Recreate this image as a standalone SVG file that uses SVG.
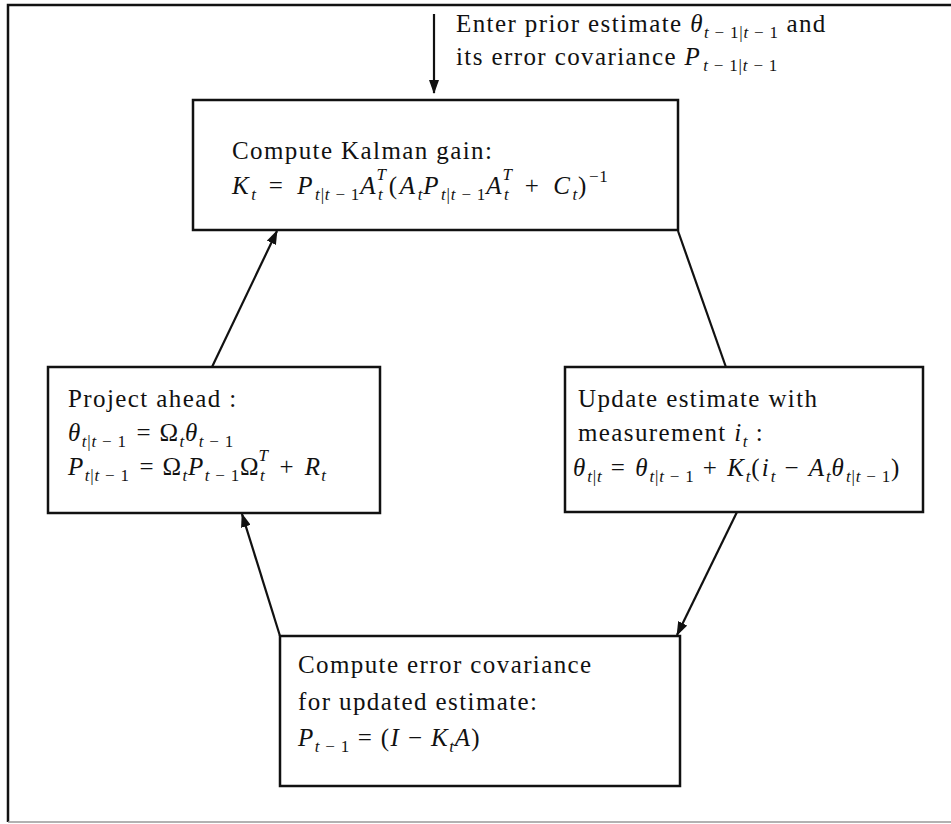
<svg xmlns="http://www.w3.org/2000/svg" width="951" height="824" viewBox="0 0 951 824">
<style>
.t{font-family:"Liberation Serif","Times New Roman",serif;font-size:25px;letter-spacing:1.4px;fill:#111}
.i{font-style:italic}
.s{font-size:17px;letter-spacing:0.8px}
.wide{letter-spacing:2.6px}
.box{fill:#fff;stroke:#111;stroke-width:2.5}
.c{stroke:#111;stroke-width:2.2;fill:none;marker-end:url(#ah)}
</style>
<defs>
<marker id="ah" markerUnits="userSpaceOnUse" markerWidth="14" markerHeight="10" refX="13" refY="5" orient="auto">
<path d="M0,0 L14,5 L0,10 Z" fill="#111"/>
</marker>
</defs>
<rect width="951" height="824" fill="#fff"/>
<g id="frame">
<path d="M8,822 L8,5 L951,5" fill="none" stroke="#111" stroke-width="2.5"/>
<path d="M8,822 L951,822" fill="none" stroke="#999" stroke-width="1.5"/>
</g>
<g id="connectors">
<line class="c" x1="434" y1="14" x2="434" y2="93"/>
<line class="c" x1="678" y1="231" x2="740" y2="407"/>
<line class="c" x1="737" y1="512" x2="677" y2="635"/>
<line class="c" x1="280" y1="636" x2="242" y2="514"/>
<line class="c" x1="212" y1="367" x2="277" y2="231"/>
</g>
<g id="entry">
<text class="t" x="456" y="32">Enter prior estimate <tspan class="i">θ</tspan><tspan class="s" dy="6"><tspan class="i">t</tspan> − 1|<tspan class="i">t</tspan> − 1</tspan><tspan dy="-6"> and</tspan></text>
<text class="t" x="456" y="65">its error covariance <tspan class="i">P</tspan><tspan class="s" dy="6" dx="2"><tspan class="i">t</tspan> − 1|<tspan class="i">t</tspan> − 1</tspan></text>
</g>
<g id="kalman">
<rect class="box" x="193" y="100" width="485" height="130"/>
<text class="t" x="232" y="159">Compute Kalman gain:</text>
<text class="t wide" x="232" y="194"><tspan class="i">K</tspan><tspan class="s i" dy="6">t</tspan><tspan dy="-6" dx="3"> = </tspan><tspan class="i" dx="3">P</tspan><tspan class="s" dy="6"><tspan class="i">t</tspan>|<tspan class="i">t</tspan> − 1</tspan><tspan class="i" dy="-6">A</tspan><tspan class="s i" dy="6">t</tspan><tspan class="s i" dx="-7" dy="-20">T</tspan><tspan dy="14" dx="2">(</tspan><tspan class="i">A</tspan><tspan class="s i" dy="6">t</tspan><tspan class="i" dy="-6">P</tspan><tspan class="s" dy="6"><tspan class="i">t</tspan>|<tspan class="i">t</tspan> − 1</tspan><tspan class="i" dy="-6">A</tspan><tspan class="s i" dy="6">t</tspan><tspan class="s i" dx="-7" dy="-20">T</tspan><tspan dy="14" dx="3"> + </tspan><tspan class="i" dx="3">C</tspan><tspan class="s i" dy="6">t</tspan><tspan dy="-6">)</tspan><tspan class="s" dy="-12">−1</tspan></text>
</g>
<g id="project">
<rect class="box" x="48" y="367" width="332" height="146"/>
<text class="t" x="68" y="407">Project ahead :</text>
<text class="t" x="68" y="441"><tspan class="i">θ</tspan><tspan class="s" dy="6"><tspan class="i">t</tspan>|<tspan class="i">t</tspan> − 1</tspan><tspan dy="-6" dx="2"> = Ω</tspan><tspan class="s i" dy="6">t</tspan><tspan class="i" dy="-6">θ</tspan><tspan class="s" dy="6"><tspan class="i">t</tspan> − 1</tspan></text>
<text class="t" x="68" y="475"><tspan class="i">P</tspan><tspan class="s" dy="6"><tspan class="i">t</tspan>|<tspan class="i">t</tspan> − 1</tspan><tspan dy="-6" dx="2"> = Ω</tspan><tspan class="s i" dy="6">t</tspan><tspan class="i" dy="-6">P</tspan><tspan class="s" dy="6"><tspan class="i">t</tspan> − 1</tspan><tspan dy="-6">Ω</tspan><tspan class="s i" dy="6">t</tspan><tspan class="s i" dx="-7" dy="-20">T</tspan><tspan dy="14" dx="3"> + </tspan><tspan class="i" dx="2">R</tspan><tspan class="s i" dy="6">t</tspan></text>
</g>
<g id="update">
<rect class="box" x="565" y="367" width="358" height="145"/>
<text class="t" x="578" y="407">Update estimate with</text>
<text class="t" x="578" y="441">measurement <tspan class="i">i</tspan><tspan class="s i" dy="6">t</tspan><tspan dy="-6"> :</tspan></text>
<text class="t" x="573" y="476" style="letter-spacing:2px"><tspan class="i">θ</tspan><tspan class="s" dy="6"><tspan class="i">t</tspan>|<tspan class="i">t</tspan></tspan><tspan dy="-6"> = </tspan><tspan class="i">θ</tspan><tspan class="s" dy="6"><tspan class="i">t</tspan>|<tspan class="i">t</tspan> − 1</tspan><tspan dy="-6"> + </tspan><tspan class="i">K</tspan><tspan class="s i" dy="6">t</tspan><tspan dy="-6">(</tspan><tspan class="i">i</tspan><tspan class="s i" dy="6">t</tspan><tspan dy="-6"> − </tspan><tspan class="i">A</tspan><tspan class="s i" dy="6">t</tspan><tspan class="i" dy="-6">θ</tspan><tspan class="s" dy="6"><tspan class="i">t</tspan>|<tspan class="i">t</tspan> − 1</tspan><tspan dy="-6">)</tspan></text>
</g>
<g id="errcov">
<rect class="box" x="280" y="636" width="400" height="150"/>
<text class="t" x="298" y="673">Compute error covariance</text>
<text class="t" x="298" y="710">for updated estimate:</text>
<text class="t" x="298" y="746"><tspan class="i">P</tspan><tspan class="s" dy="6"><tspan class="i">t</tspan> − 1</tspan><tspan dy="-6"> = (</tspan><tspan class="i">I</tspan><tspan> − </tspan><tspan class="i">K</tspan><tspan class="s i" dy="6">t</tspan><tspan class="i" dy="-6">A</tspan><tspan>)</tspan></text>
</g>
</svg>
